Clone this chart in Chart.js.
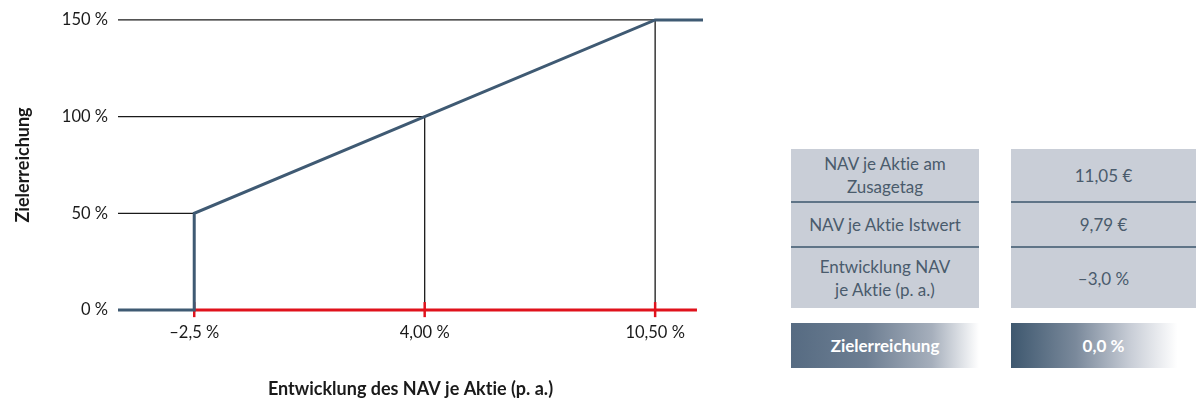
<!DOCTYPE html>
<html>
<head>
<meta charset="utf-8">
<script src="https://cdn.jsdelivr.net/npm/chart.js@4"></script>
<style>
  html, body { margin:0; padding:0; background:#fff; }
  body { width:1196px; height:400px; position:relative; overflow:hidden; font-family: Lato, "Open Sans", sans-serif; font-variant-ligatures: none; }
  #wrap { position:absolute; left:0; top:0; width:720px; height:400px; }
  .cell { position:absolute; background:#c9ced7; color:#4a5b6c; font-size:17px; line-height:23px;
          display:flex; align-items:center; justify-content:center; text-align:center; box-sizing:border-box; }
  .div { position:absolute; height:2px; background:#5f7487; }
  .res { position:absolute; color:#fff; font-weight:bold; font-size:17px; display:flex; align-items:center; justify-content:center; }
</style>
</head>
<body>
<div id="wrap"><canvas id="c"></canvas></div>
<div id="table"></div>
<script>
// ---- data ----
const xTickValues = [-2.5, 4.0, 10.5];
const xTickLabels = ['–2,5 %', '4,00 %', '10,50 %'];
const yTickValues = [0, 50, 100, 150];
const yTickLabels = ['0 %', '50 %', '100 %', '150 %'];
const xRange = [-4.65, 11.85];
const curveX = [-4.65, -2.5, -2.5, 4.0, 10.5, 11.85];
const curveY = [0, 0, 50, 100, 150, 150];
const refX = [-2.5, 4.0, 10.5];
const refY = [50, 100, 150];
const axisRedEnd = 11.68;
const tableLabels = ['NAV je Aktie am<br>Zusagetag', 'NAV je Aktie Istwert', 'Entwicklung NAV<br>je Aktie (p. a.)'];
const tableValues = ['11,05 €', '9,79 €', '–3,0 %'];
const resultLabel = 'Zielerreichung';
const resultValue = '0,0 %';
const xTitle = 'Entwicklung des NAV je Aktie (p. a.)';
const yTitle = 'Zielerreichung';

// ---- datasets ----
const datasets = [];
const lineDs = (pts, color, width) => ({
  type: 'scatter', data: pts, showLine: true, borderColor: color, borderWidth: width,
  pointRadius: 0, clip: false, tension: 0, borderCapStyle: 'butt'
});
// curve (top)
datasets.push(lineDs(curveX.map((x, i) => ({x, y: curveY[i]})), '#3f5a73', 3));
// red axis line
datasets.push(lineDs([{x: xTickValues[0], y: 0}, {x: axisRedEnd, y: 0}], '#e0121c', 3));
// red tick marks
xTickValues.forEach(v => datasets.push(lineDs([{x: v, y: -3.7}, {x: v, y: 4.1}], '#e0121c', 2.5)));
// reference lines (black)
refX.forEach((x, i) => {
  datasets.push(lineDs([{x: xRange[0], y: refY[i]}, {x, y: refY[i]}], '#1a1a1a', 1.3));
  datasets.push(lineDs([{x, y: refY[i]}, {x, y: 0}], '#1a1a1a', 1.3));
});

const noLig = {
  id: 'noLig',
  beforeDraw: c => { try { c.ctx.textRendering = 'optimizeSpeed'; } catch (e) {} }
};

const font = "Lato, 'Open Sans', sans-serif";
new Chart(document.getElementById('c'), {
  type: 'scatter',
  data: { datasets },
  plugins: [noLig],
  options: {
    responsive: true, maintainAspectRatio: false, animation: false,
    layout: { padding: { left: 10, top: 15, right: 17, bottom: 0 } },
    plugins: { legend: { display: false }, tooltip: { enabled: false } },
    scales: {
      x: {
        type: 'linear', min: xRange[0], max: xRange[1],
        grid: { display: false, drawTicks: false }, border: { display: false },
        afterBuildTicks: s => { s.ticks = xTickValues.map(v => ({value: v})); },
        afterFit: s => { s.height = 90; },
        ticks: { padding: 13, color: '#1a1a1a', font: { family: font, size: 16.5 },
                 autoSkip: false, maxRotation: 0,
                 callback: v => xTickLabels[xTickValues.indexOf(v)] },
        title: { display: true, text: xTitle, color: '#1a1a1a', font: { family: font, size: 18, weight: 'bold' },
                 padding: { top: 0, bottom: 0 } }
      },
      y: {
        min: 0, max: 150,
        grid: { display: false, drawTicks: false }, border: { display: false },
        afterBuildTicks: s => { s.ticks = yTickValues.map(v => ({value: v})); },
        afterFit: s => { s.width = 108; },
        ticks: { padding: 10, color: '#1a1a1a', font: { family: font, size: 16.5 },
                 callback: v => yTickLabels[yTickValues.indexOf(v)] },
        title: { display: true, text: yTitle, color: '#1a1a1a', font: { family: font, size: 18, weight: 'bold' },
                 padding: { top: 2, bottom: 0 } }
      }
    }
  }
});

// ---- table ----
const T = document.getElementById('table');
const colL = [791, 188], colR = [1011, 185];
const rows = [[149, 52], [203, 43], [248, 60]];
rows.forEach((r, i) => {
  [[colL, tableLabels[i]], [colR, tableValues[i]]].forEach(([c, txt]) => {
    const d = document.createElement('div');
    d.className = 'cell';
    d.style.cssText = `left:${c[0]}px;top:${r[0]}px;width:${c[1]}px;height:${r[1]}px;`;
    d.innerHTML = txt;
    T.appendChild(d);
    if (i < rows.length - 1) {
      const l = document.createElement('div');
      l.className = 'div';
      l.style.cssText = `left:${c[0]}px;top:${r[0] + r[1]}px;width:${c[1]}px;`;
      T.appendChild(l);
    }
  });
});
const r1 = document.createElement('div');
r1.className = 'res';
r1.style.cssText = 'left:791px;top:323px;width:188px;height:45px;background:linear-gradient(to right,#566b82 0%,#6d7e92 40%,#a6afbc 75%,#fff 100%);';
r1.textContent = resultLabel;
T.appendChild(r1);
const r2 = document.createElement('div');
r2.className = 'res';
r2.style.cssText = 'left:1011px;top:323px;width:185px;height:45px;background:linear-gradient(to right,#3e586f 0%,#7a899b 35%,#c9ced7 65%,#fff 90%);';
r2.textContent = resultValue;
T.appendChild(r2);
</script>
</body>
</html>
